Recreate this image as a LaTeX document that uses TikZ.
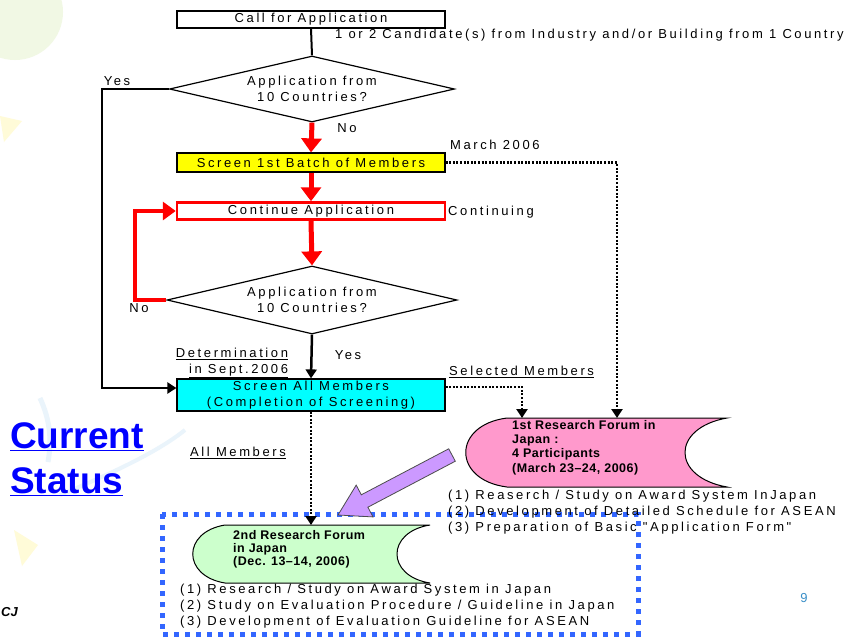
\documentclass[tikz,border=0pt]{standalone}
\usepackage{fontspec}
\setmainfont{Liberation Sans}
\newfontfamily\lsp{Liberation Sans}[LetterSpace=20]
\newfontfamily\fsp{Liberation Sans}[LetterSpace=4]
\usetikzlibrary{shapes.geometric,arrows.meta,calc}
\definecolor{pinkf}{HTML}{FF99CC}
\definecolor{greenf}{HTML}{CCFFCC}
\definecolor{purplef}{HTML}{CC99FF}
\definecolor{cyanf}{RGB}{0,255,255}
\definecolor{yellowf}{RGB}{255,255,0}
\definecolor{dotblue}{HTML}{3366FF}
\definecolor{pagenum}{HTML}{3A8FC8}
\definecolor{bggreen}{HTML}{F1F8E4}
\definecolor{bgyellow}{HTML}{FFFBD8}
\definecolor{bgblue}{HTML}{EAF4FB}
\tikzset{
  every node/.style={font=\lsp\fontsize{13}{16}\selectfont, inner sep=0pt},
  procbox/.style={draw=black, line width=1.2pt, minimum width=268pt, minimum height=17pt},
  decision/.style={draw=black, line width=1.2pt, diamond, shape aspect=4.3, minimum width=285pt, minimum height=66pt, align=center},
  redflow/.style={draw=red, line width=5pt, -{Triangle[width=20pt,length=14pt]}},
  blackflow/.style={draw=black, line width=2.5pt, -{Triangle[width=11pt,length=9pt]}},
  dotflow/.style={draw=black, line width=2.5pt, dash pattern=on 2pt off 1.6pt, -{Triangle[width=11pt,length=9pt]}},
  lbl/.style={anchor=west},
  forumtext/.style={font=\fsp\bfseries\fontsize{12.5}{14.3}\selectfont, align=left, anchor=north west},
  listtext/.style={anchor=north west, align=left, font=\lsp\fontsize{13}{15.8}\selectfont},
}
\begin{document}
\begin{tikzpicture}[x=1pt,y=-1pt]
\useasboundingbox (0,0) rectangle (852,638);
\fill[white] (0,0) rectangle (852,638);
% faint background decoration
\fill[bggreen] (15,12) circle (48);
\fill[bgyellow] (0,116) -- (22,121) -- (4,142) -- cycle;
\fill[bgyellow] (14,530) -- (38,545) -- (22,566) -- cycle;
\draw[bgblue, line width=5pt] (40,398) .. controls (50,420) and (52,440) .. (48,462);
\draw[bgblue, line width=4pt] (60,495) .. controls (120,470) and (160,450) .. (185,430);

% flow boxes
\node[procbox] (call) at (311,19.5) {Call for Application};
\node[lbl] (cand) at (335,35) {1 or 2 Candidate(s) from Industry and/or Building from 1 Country};
\node[decision] (d1) at (312,89) {Application from\\10 Countries?};
\node (yes1) at (117,81) {Yes};
\node (no1) at (347,128) {No};
\node[procbox, fill=yellowf, minimum height=19pt] (s1) at (311,162.5) {Screen 1st Batch of Members};
\node[lbl] (mar) at (450,145) {March 2006};
\node[procbox, draw=red, line width=2.5pt, minimum height=17pt] (cont) at (311,211) {Continue Application};
\node[lbl] (contg) at (448,212) {Continuing};
\node[decision, minimum width=290pt, minimum height=68pt] (d2) at (312,300) {Application from\\10 Countries?};
\node (no2) at (139,308) {No};
\node (yes2) at (348,355) {Yes};
\node[align=right] (det) at (232,363) {\underline{Determination}\\\underline{in Sept.2006}};
\node[procbox, fill=cyanf, minimum height=32pt, align=center] (all) at (311,395) {Screen All Members\\(Completion of Screening)};
\node[lbl] (sel) at (449,372) {\underline{Selected Members}};
\node (allm) at (238,453) {\underline{All Members}};

% current status
\node[anchor=north west, align=left, text=blue, font=\normalfont\bfseries\fontsize{37}{45}\selectfont] (cs) at (10,422) {\underline{Current}\\\underline{Status}};

% blue dotted frame
\draw[dotblue, line width=5pt, dash pattern=on 5pt off 6pt] (162,514) rectangle (638,634);

% purple block arrow
\draw[fill=purplef, draw=black!70, line width=0.8pt] (448.7,448.8) -- (455.3,461.2) -- (367.9,507.2) -- (373.0,516.9) -- (338,515) -- (356.2,485.1) -- (361.3,494.8) -- cycle;

% forum shapes
\draw[fill=pinkf, line width=1pt] (507,418) -- (727,418) .. controls (671,428) and (671,477) .. (727,487) -- (507,487) .. controls (452,480) and (452,425) .. cycle;
\node[forumtext] (f1) at (512,420) {1st Research Forum in\\Japan :\\4 Participants\\(March 23–24, 2006)};
\draw[fill=greenf, line width=1pt] (225,525) -- (430,525) .. controls (386,532) and (386,576) .. (430,583) -- (225,583) .. controls (182,576) and (182,532) .. cycle;
\node[forumtext, font=\fsp\bfseries\fontsize{12.5}{13.3}\selectfont] (f2) at (233,530) {2nd Research Forum\\in Japan\\(Dec. 13–14, 2006)};

\node[listtext] (l1) at (448,490) {(1) Reaserch / Study on Award System InJapan\\(2) Development of Detailed Schedule for ASEAN\\(3) Preparation of Basic "Application Form"};
\node[listtext] (l2) at (180,584) {(1) Research / Study on Award System  in Japan\\(2) Study on Evaluation Procedure / Guideline in Japan\\(3) Development of Evaluation Guideline for ASEAN};

\node[text=pagenum, font=\normalfont\fontsize{13}{13}\selectfont] (pg) at (804,598) {9};
\node[anchor=west, font=\normalfont\bfseries\itshape\fontsize{13}{13}\selectfont] (cj) at (1,612) {CJ};

% connectors
\coordinate (ycorner) at (102,89);
\coordinate (loopc) at (135,300);
\coordinate (c1) at (617,162.5);
\coordinate (p1) at (617,418);
\coordinate (c2) at (522,387);
\coordinate (p2) at (522,418);
\coordinate (g1) at (311,525);
\draw[line width=2pt] (call.south) -- (d1.north);
\draw[blackflow] (d1.west) -- (ycorner) |- ([yshift=7pt]all.west);
\draw[redflow] (d1.south) -- (s1.north);
\draw[redflow] (s1.south) -- (cont.north);
\draw[redflow] (cont.south) -- (d2.north);
\draw[draw=red, line width=4.5pt, -{Triangle[width=18pt,length=13pt]}] (d2.west) -- (loopc) |- (cont.west);
\draw[blackflow] (d2.south) -- (all.north);
\draw[dotflow] (s1.east) -- (c1) -- (p1);
\draw[dotflow] ([yshift=8pt]all.east) -- (c2) -- (p2);
\draw[dotflow] (all.south) -- (g1);
\end{tikzpicture}
\end{document}
